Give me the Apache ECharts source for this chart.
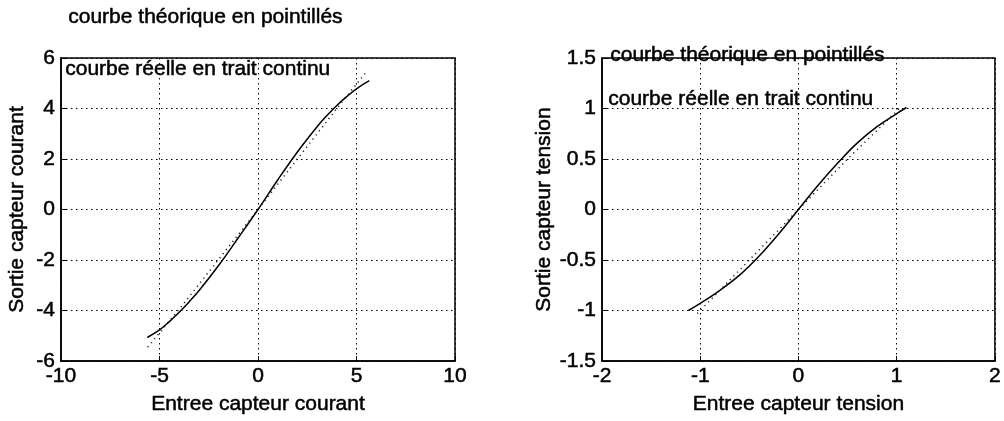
<!DOCTYPE html>
<html>
<head>
<meta charset="utf-8">
<script src="https://cdn.jsdelivr.net/npm/echarts@6/dist/echarts.min.js"></script>
<style>
html,body{margin:0;padding:0;background:#fff;}
#c{width:1004px;height:421px;}
</style>
</head>
<body>
<div id="c"></div>
<script>
// Left chart: current sensor (courant)
const courantReelX = [-5.62, -5.0, -4.5, -4.0, -3.5, -3.0, -2.0, -1.0, 0.0, 1.0, 2.0, 3.0, 3.5, 4.0, 4.5, 5.0, 5.65];
const courantReelY = [-5.07, -4.77, -4.44, -4.07, -3.66, -3.22, -2.22, -1.12, 0.0, 1.17, 2.28, 3.28, 3.72, 4.12, 4.47, 4.78, 5.1];
const courantTheoX = [-5.6, -4.0, -2.0, 0.0, 2.0, 4.0, 5.55];
const courantTheoY = [-5.45, -3.95, -1.98, 0.0, 2.0, 4.0, 5.5];

// Right chart: voltage sensor (tension)
const tensionReelX = [-1.12, -1.0, -0.8, -0.6, -0.4, -0.2, 0.0, 0.2, 0.4, 0.6, 0.8, 1.0, 1.1];
const tensionReelY = [-1.0, -0.93, -0.8, -0.65, -0.46, -0.24, 0.0, 0.24, 0.46, 0.66, 0.82, 0.95, 1.01];
const tensionTheoX = [-1.03, -0.5, 0.0, 0.5, 1.05];
const tensionTheoY = [-1.03, -0.5, 0.0, 0.5, 1.02];

const xTicksCourant = {min: -10, max: 10, interval: 5};
const yTicksCourant = {min: -6, max: 6, interval: 2};
const xTicksTension = {min: -2, max: 2, interval: 1};
const yTicksTension = {min: -1.5, max: 1.5, interval: 0.5};

const labels = {
  titreTheo: 'courbe théorique en pointillés',
  titreReel: 'courbe réelle en trait continu',
  xCourant: 'Entree capteur courant',
  yCourant: 'Sortie capteur courant',
  xTension: 'Entree capteur tension',
  yTension: 'Sortie capteur tension'
};

const FONT = '"Liberation Sans", Arial, sans-serif';
const FS = 21;
const TB = 0.5;

function pairs(xs, ys){ return xs.map((x,i)=>[x, ys[i]]); }

function axis(t, name, nameGap, isX){
  return {
    type: 'value', min: t.min, max: t.max, interval: t.interval,
    name: name, nameLocation: 'middle', nameGap: nameGap,
    nameTextStyle: {fontFamily: FONT, fontSize: FS, color: '#000', textBorderColor: '#000', textBorderWidth: TB},
    axisLine: {show: true, onZero: false, lineStyle: {color: '#000', width: 1.5}},
    axisTick: {show: true, inside: true, length: 5, lineStyle: {color: '#000'}},
    axisLabel: {fontFamily: FONT, fontSize: FS, color: '#000', margin: isX ? 5 : 6, textBorderColor: '#000', textBorderWidth: TB},
    splitLine: {show: true, lineStyle: {color: '#000', type: [1.5, 3.5], width: 1}}
  };
}

function note(x, y, txt){
  return {type: 'text', left: x, top: y, z: 100,
    style: {text: txt, font: FS + 'px ' + FONT, fill: '#000', stroke: '#000', lineWidth: TB}};
}

const chart = echarts.init(document.getElementById('c'), null, {renderer: 'canvas'});
chart.setOption({
  animation: false,
  backgroundColor: '#fff',
  grid: [
    {left: 61, right: 549, top: 58, bottom: 60, show: true, borderColor: '#000', borderWidth: 1.5},
    {left: 602, right: 3, top: 58, bottom: 60, show: true, borderColor: '#000', borderWidth: 1.5}
  ],
  xAxis: [
    Object.assign(axis(xTicksCourant, labels.xCourant, 33, true), {gridIndex: 0}),
    Object.assign(axis(xTicksTension, labels.xTension, 33, true), {gridIndex: 1})
  ],
  yAxis: [
    Object.assign(axis(yTicksCourant, labels.yCourant, 33, false), {gridIndex: 0}),
    Object.assign(axis(yTicksTension, labels.yTension, 47, false), {gridIndex: 1})
  ],
  series: [
    {type: 'line', xAxisIndex: 0, yAxisIndex: 0, data: pairs(courantTheoX, courantTheoY), showSymbol: false,
     lineStyle: {color: '#222', width: 1.5, type: [1.2, 4]}},
    {type: 'line', xAxisIndex: 0, yAxisIndex: 0, data: pairs(courantReelX, courantReelY), showSymbol: false, smooth: 0.4,
     lineStyle: {color: '#000', width: 1.5}},
    {type: 'line', xAxisIndex: 1, yAxisIndex: 1, data: pairs(tensionTheoX, tensionTheoY), showSymbol: false,
     lineStyle: {color: '#222', width: 1.5, type: [1.2, 4]}},
    {type: 'line', xAxisIndex: 1, yAxisIndex: 1, data: pairs(tensionReelX, tensionReelY), showSymbol: false, smooth: 0.4,
     lineStyle: {color: '#000', width: 1.5}}
  ],
  graphic: [
    note(68, 6, labels.titreTheo),
    note(65, 58, labels.titreReel),
    note(610, 44, labels.titreTheo),
    note(608, 88, labels.titreReel)
  ]
});
</script>
</body>
</html>
